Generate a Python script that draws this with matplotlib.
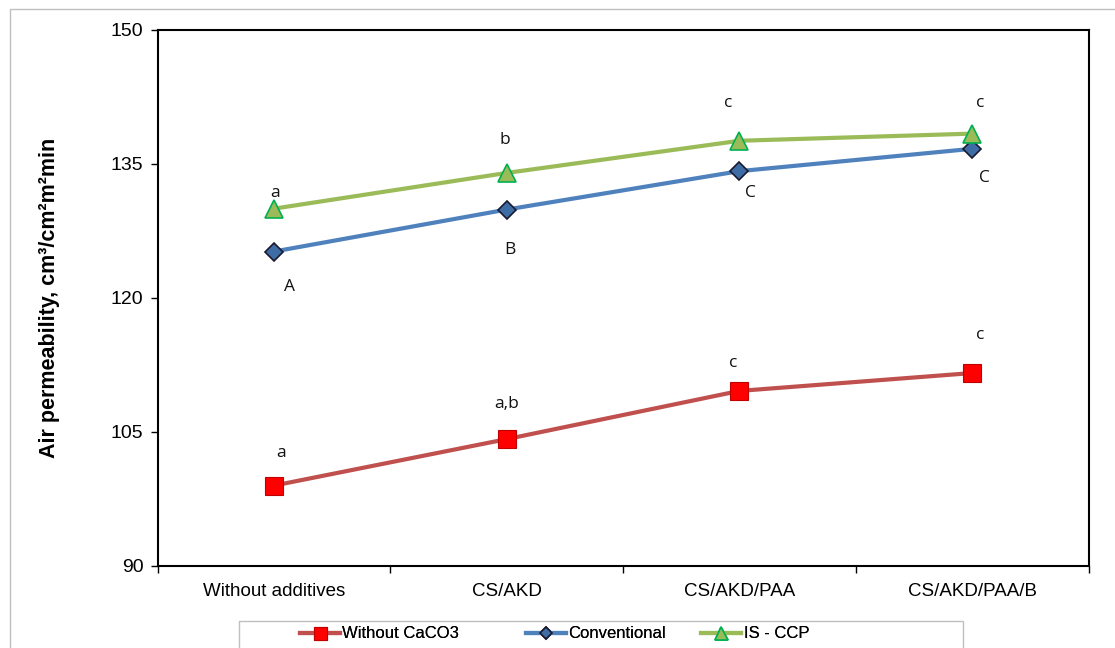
import numpy as np
import matplotlib.pyplot as plt
from matplotlib.patches import Rectangle

categories = ["Without additives", "CS/AKD", "CS/AKD/PAA", "CS/AKD/PAA/B"]
without_caco3 = [99.0, 104.2, 109.6, 111.6]
conventional = [125.2, 129.9, 134.2, 136.7]
is_ccp = [130.0, 134.0, 137.6, 138.4]

labels_red = ["a", "a,b", "c", "c"]
labels_blue = ["A", "B", "C", "C"]
labels_green = ["a", "b", "c", "c"]

plt.rcParams['font.family'] = ['Liberation Sans', 'DejaVu Sans']

fig = plt.figure(figsize=(11.15, 6.48), dpi=100)
ax = fig.add_axes([157.5/1115, 1-566/648, 931/1115, 536/648])

x = np.arange(len(categories))

l1, = ax.plot(x, without_caco3, color="#C0504D", lw=3, marker="s", ms=13,
              mfc="#FF0000", mec="#C00000", mew=0.8, label="Without CaCO3", zorder=3)
l2, = ax.plot(x, conventional, color="#4F81BD", lw=3, marker="D", ms=9,
              mfc="#3E6DA6", mec="#1A1A2E", mew=1.2, label="Conventional", zorder=3)
l3, = ax.plot(x, is_ccp, color="#9BBB59", lw=3, marker="^", ms=13,
              mfc="#9BBB59", mec="#00B050", mew=1.2, label="IS - CCP", zorder=4)

# letter offsets in pixels (dx, dy), dy up positive
off_red = [(7, 33), (0, 35), (-6, 28), (8, 38)]
off_blue = [(16, -35), (3, -40), (11, -22), (12, -29)]
off_green = [(1, 16), (-2, 33), (-11, 38), (8, 31)]

for vals, labs, offs in [(without_caco3, labels_red, off_red),
                         (conventional, labels_blue, off_blue),
                         (is_ccp, labels_green, off_green)]:
    for xi, v, lab, o in zip(x, vals, labs, offs):
        ax.annotate(lab, (xi, v), xytext=o, textcoords="offset pixels",
                    ha="center", va="center", fontsize=12.5,
                    family=["Open Sans", "DejaVu Sans"], color="#111111", zorder=5)

ax.set_xlim(-0.5, 3.5)
ax.set_ylim(90, 150)
ax.set_yticks([90, 105, 120, 135, 150])
ax.set_xticks(x)
ax.set_xticklabels(categories, fontsize=13.5)
ax.set_xticks(np.arange(-0.5, 3.6, 1), minor=True)
ax.tick_params(axis="x", which="major", length=0, pad=12)
ax.tick_params(axis="x", which="minor", length=5, width=1)
ax.tick_params(axis="y", length=5, width=1, labelsize=14, pad=5)
for s in ax.spines.values():
    s.set_linewidth(1.5)
    s.set_color("black")

ax.set_ylabel("Air permeability, cm³/cm²m²min", fontsize=15.5,
              fontweight="bold", labelpad=37)

# outer border
fig.patches.append(Rectangle((10/1115, -0.01), 1.0, 1-9/648 + 0.01, transform=fig.transFigure,
                             fill=False, edgecolor="#BFBFBF", lw=1))
# legend frame
fig.patches.append(Rectangle((239/1115, -0.01), 724/1115, 1-621/648 + 0.01,
                             transform=fig.transFigure, fill=False,
                             edgecolor="#BFBFBF", lw=1))

# one legend entry per column, placed like the original
for line, xpos in [(l1, 300), (l2, 526), (l3, 701)]:
    leg = fig.legend(handles=[line], loc="center left",
                     bbox_to_anchor=(xpos/1115, 1-634/648), fontsize=12,
                     frameon=False, handlelength=2.4, handletextpad=0.15,
                     markerscale=0.72, borderpad=0.0, borderaxespad=0.0)
    fig.add_artist(leg)

fig.savefig("out.png", dpi=100)
